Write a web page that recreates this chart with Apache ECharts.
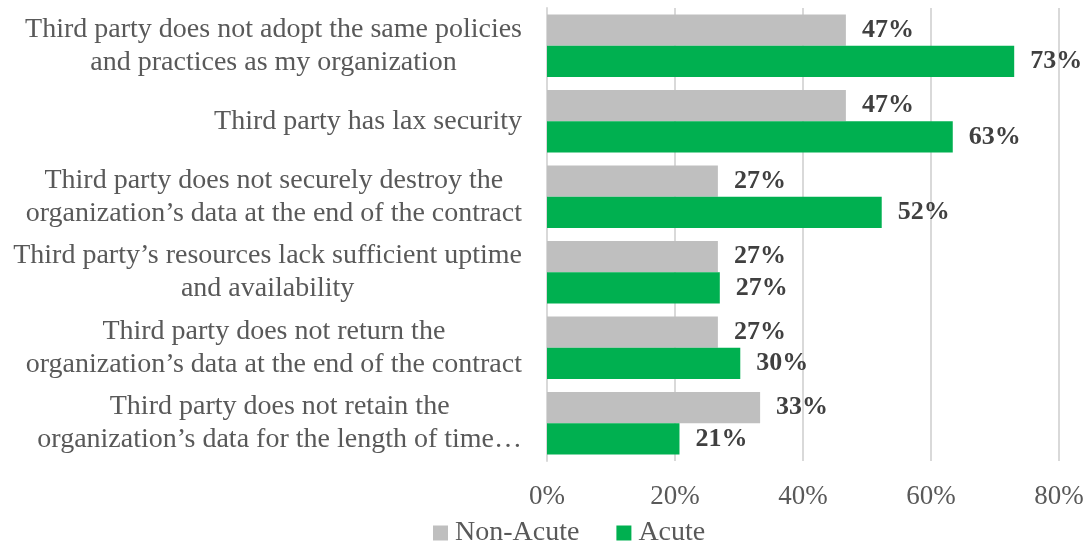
<!DOCTYPE html>
<html><head><meta charset="utf-8">
<script src="https://cdn.jsdelivr.net/npm/echarts@6/dist/echarts.min.js"></script>
<style>html,body{margin:0;padding:0;background:#fff}#c{width:1088px;height:544px}</style>
</head><body><div id="c"></div>
<script>
const categories = [
  "Third party does not adopt the same policies\nand practices as my organization",
  "Third party has lax security",
  "Third party does not securely destroy the\norganization’s data at the end of the contract",
  "Third party’s resources lack sufficient uptime\nand availability",
  "Third party does not return the\norganization’s data at the end of the contract",
  "Third party does not retain the\norganization’s data for the length of time…"
];
const nonAcute = [46.7, 46.7, 26.7, 26.7, 26.7, 33.3];
const acute = [73.0, 63.4, 52.3, 27.0, 30.2, 20.7];
const tickLabels = ["0%", "20%", "40%", "60%", "80%"];

const FONT = "Liberation Serif";
const chart = echarts.init(document.getElementById('c'));
const lbl = {
  show: true, position: 'right', distance: 16,
  formatter: p => Math.round(p.value) + '%',
  fontFamily: FONT, fontSize: 26, fontWeight: 'bold', color: '#404040'
};
chart.setOption({
  animation: false,
  textStyle: { fontFamily: FONT },
  grid: { left: 547, right: 29, top: 8, bottom: 83, containLabel: false },
  legend: {
    data: ["Non-Acute", "Acute"],
    bottom: -3, left: 433, padding: 0,
    itemWidth: 15, itemHeight: 15, itemGap: 37,
    icon: 'rect',
    textStyle: { fontFamily: FONT, fontSize: 28, color: '#595959', padding: [0, 0, 0, 2] }
  },
  xAxis: {
    type: 'value', min: 0, max: 80, interval: 20,
    axisLabel: { fontFamily: FONT, fontSize: 27, color: '#595959', margin: 22,
      formatter: v => tickLabels[Math.round(v / 20)] },
    splitLine: { lineStyle: { color: '#d9d9d9', width: 2 } },
    axisLine: { show: false }, axisTick: { show: false }
  },
  yAxis: {
    type: 'category', inverse: true, data: categories,
    axisLine: { show: true, lineStyle: { color: '#d9d9d9', width: 2 } },
    axisTick: { show: false },
    axisLabel: {
      margin: 25, align: 'right',
      formatter: v => v.split('\n').map(s => '{a|' + s + '}').join('\n'),
      rich: { a: { fontFamily: FONT, fontSize: 28, color: '#595959', align: 'center', lineHeight: 33 } }
    }
  },
  series: [
    { name: "Non-Acute", type: 'bar', data: nonAcute, barGap: '0%', barCategoryGap: '17%',
      itemStyle: { color: '#bfbfbf' }, label: lbl },
    { name: "Acute", type: 'bar', data: acute, barGap: '0%', barCategoryGap: '17%',
      itemStyle: { color: '#00b050' }, label: lbl }
  ]
});
</script></body></html>
